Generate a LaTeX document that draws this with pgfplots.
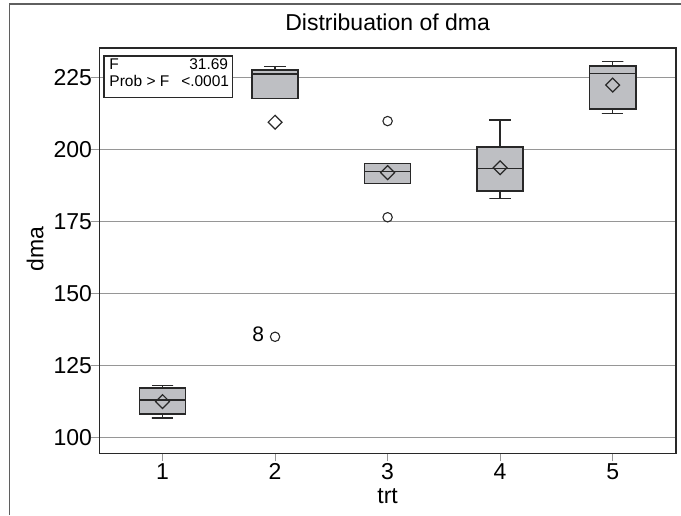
\documentclass[border=0pt]{standalone}
\usepackage{fontspec}
\setmainfont{Liberation Sans}
\usepackage{pgfplots}
\pgfplotsset{compat=1.18}
\definecolor{boxfill}{RGB}{190,191,195}
\definecolor{edge}{RGB}{40,40,40}
\definecolor{gridc}{RGB}{150,150,150}
\definecolor{framec}{RGB}{95,95,95}
\begin{document}
\begin{tikzpicture}
\useasboundingbox (-99.5pt,-61.7pt) rectangle (581.5pt,453.3pt);
\draw[line width=1.3pt, framec] (-90.2pt,-61.7pt) -- (-90.2pt,449.3pt) -- (581.5pt,449.3pt);
\begin{axis}[
  at={(0pt,0pt)}, anchor=south west,
  scale only axis, width=576.2pt, height=405pt,
  xmin=0.44, xmax=5.56, ymin=94.44, ymax=235.07,
  xtick={1,2,3,4,5}, ytick={100,125,150,175,200,225},
  ymajorgrids, grid style={gridc, line width=1.1pt},
  axis line style={edge, line width=1.6pt},
  tick align=outside, xtick pos=bottom, ytick pos=left,
  tick style={gridc, line width=1pt},
  major tick length=8pt,
  /pgf/number format/assume math mode=true,
  ticklabel style={font=\fontsize{23}{27}\selectfont},
  yticklabel style={xshift=4pt},
  xticklabel style={yshift=1pt},
  title={Distribuation of dma},
  title style={font=\fontsize{23}{27}\selectfont, at={(0.5,1)}, anchor=base, yshift=11.6pt},
  xlabel={trt}, ylabel={dma},
  xlabel style={font=\fontsize{23}{27}\selectfont, at={(axis description cs:0.5,0)}, anchor=base, yshift=-49.7pt},
  ylabel style={font=\fontsize{23}{27}\selectfont, at={(axis description cs:-0.0975,0.504)}, anchor=base},
  boxs/.style={draw=edge, fill=boxfill, line width=1.6pt, mark=none},
  lns/.style={draw=edge, line width=1.3pt, mark=none},
]
% box 1: whiskers 106.7/117.9, quartiles 108.1/117.2, median 112.95
\addplot[boxs] coordinates {(0.795,108.1) (1.205,108.1) (1.205,117.2) (0.795,117.2)} -- cycle;
\addplot[lns] coordinates {(0.795,112.95) (1.205,112.95)};
\addplot[lns] coordinates {(0.905,117.9) (1.095,117.9) (1,117.9) (1,117.2)};
\addplot[lns] coordinates {(1,108.1) (1,106.7) (0.905,106.7) (1.095,106.7)};
% box 2: whiskers 217.7/228.7, quartiles 217.7/227.5, median 226.1
\addplot[boxs] coordinates {(1.795,217.7) (2.205,217.7) (2.205,227.5) (1.795,227.5)} -- cycle;
\addplot[lns] coordinates {(1.795,226.1) (2.205,226.1)};
\addplot[lns] coordinates {(1.905,228.7) (2.095,228.7) (2,228.7) (2,227.5)};
% box 3: quartiles 188.1/195.1, median 192.2
\addplot[boxs] coordinates {(2.795,188.1) (3.205,188.1) (3.205,195.1) (2.795,195.1)} -- cycle;
\addplot[lns] coordinates {(2.795,192.2) (3.205,192.2)};
% box 4: whiskers 183.0/210.2, quartiles 185.6/200.8, median 193.4
\addplot[boxs] coordinates {(3.795,185.6) (4.205,185.6) (4.205,200.8) (3.795,200.8)} -- cycle;
\addplot[lns] coordinates {(3.795,193.4) (4.205,193.4)};
\addplot[lns] coordinates {(3.905,210.2) (4.095,210.2) (4,210.2) (4,200.8)};
\addplot[lns] coordinates {(4,185.6) (4,183.0) (3.905,183.0) (4.095,183.0)};
% box 5: whiskers 212.5/230.4, quartiles 213.9/228.9, median 226.25
\addplot[boxs] coordinates {(4.795,213.9) (5.205,213.9) (5.205,228.9) (4.795,228.9)} -- cycle;
\addplot[lns] coordinates {(4.795,226.25) (5.205,226.25)};
\addplot[lns] coordinates {(4.905,230.4) (5.095,230.4) (5,230.4) (5,228.9)};
\addplot[lns] coordinates {(5,213.9) (5,212.5) (4.905,212.5) (5.095,212.5)};
% outliers
\addplot[only marks, mark=o, mark size=4.7pt, mark options={draw=edge, fill=white, line width=1.1pt}]
  coordinates {(2,134.9) (3,209.8) (3,176.4)};
% means
\addplot[only marks, mark=square, mark size=4.9pt, mark options={rotate=45, draw=edge, line width=1.2pt, fill=none}]
  coordinates {(1,112.4) (2,209.4) (3,191.9) (4,193.6) (5,222.3)};
\node[anchor=base east, font=\fontsize{21}{25}\selectfont, inner sep=0pt] at (axis cs:1.905,133.4) {8};
\end{axis}
\draw[edge, line width=1.3pt, fill=white] (4.5pt,355.6pt) rectangle (133.2pt,397.3pt);
\begin{scope}[every node/.style={inner sep=0pt, font=\fontsize{15.5}{18}\selectfont}]
\node[anchor=base west] at (9.8pt,383.3pt) {F};
\node[anchor=base east] at (128.8pt,383.3pt) {31.69};
\node[anchor=base west] at (9.8pt,366.6pt) {Prob > F};
\node[anchor=base east] at (129.8pt,366.6pt) {<.0001};
\end{scope}
\end{tikzpicture}
\end{document}
